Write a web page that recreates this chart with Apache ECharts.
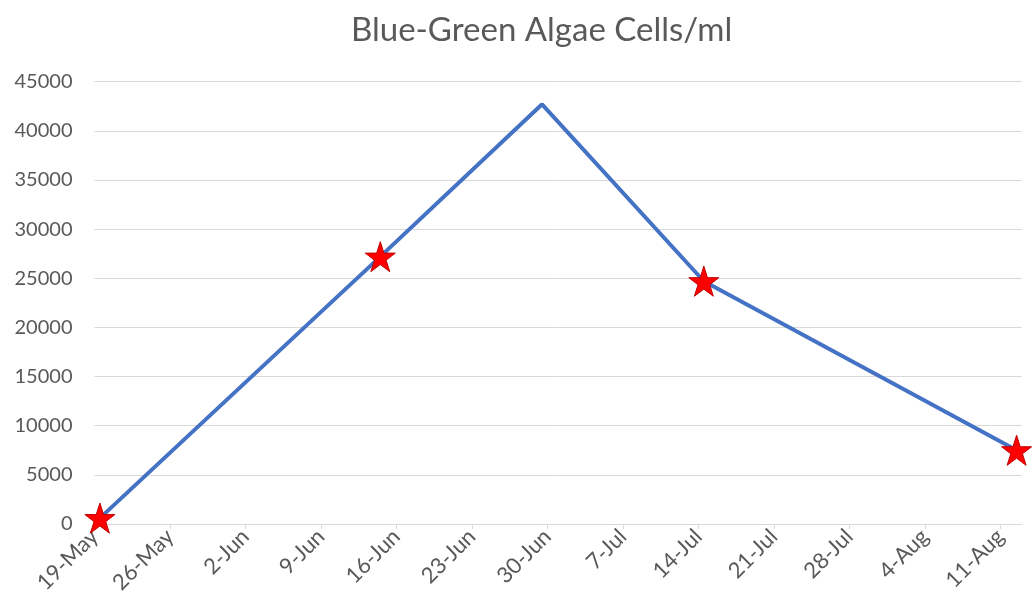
<!DOCTYPE html>
<html>
<head>
<meta charset="utf-8">
<script src="https://cdn.jsdelivr.net/npm/echarts@6/dist/echarts.min.js"></script>
<style>
  html, body { margin: 0; padding: 0; background: #fff; }
  #chart { width: 1033px; height: 609px; }
</style>
</head>
<body>
<div id="chart"></div>
<script>
// Sampling dates and blue-green algae counts (cells/ml)
const sampleDates = ['2019-05-19', '2019-06-14', '2019-06-29', '2019-07-14', '2019-08-12'];
const cellCounts = [600, 27200, 42700, 24700, 7500];
// Samples drawn with a star marker
const starredDates = ['2019-05-19', '2019-06-14', '2019-07-14', '2019-08-12'];
const monthNames = ['Jan', 'Feb', 'Mar', 'Apr', 'May', 'Jun', 'Jul', 'Aug', 'Sep', 'Oct', 'Nov', 'Dec'];
const yTicks = [0, 5000, 10000, 15000, 20000, 25000, 30000, 35000, 40000, 45000];

const DAY = 86400000;
const origin = Date.UTC(2019, 4, 19);
const toDay = s => (Date.parse(s + 'T00:00:00Z') - origin) / DAY;
const dayLabel = d => {
  const dt = new Date(origin + d * DAY);
  return dt.getUTCDate() + '-' + monthNames[dt.getUTCMonth()];
};

const STAR = 'path://M50,0 L61.8,35.4 L99,35.4 L69.1,57.3 L80.9,92.7 L50,70.8 L19.1,92.7 L30.9,57.3 L1,35.4 L38.2,35.4 Z';

// each sample sits in the middle of its day on the date axis
const seriesData = sampleDates.map((d, i) => {
  const item = { value: [toDay(d) + 0.5, cellCounts[i]] };
  if (!starredDates.includes(d)) item.symbol = 'none';
  return item;
});

const chart = echarts.init(document.getElementById('chart'), null, { renderer: 'canvas' });
chart.setOption({
  animation: false,
  backgroundColor: '#ffffff',
  title: {
    text: 'Blue-Green Algae Cells/ml',
    left: 346,
    top: 9,
    textStyle: { fontFamily: 'Lato', fontSize: 33, fontWeight: 'normal', color: '#595959' }
  },
  grid: { left: 94.5, right: 11, top: 81.7, bottom: 85 },
  xAxis: {
    type: 'value',
    min: 0,
    max: 86,
    interval: 7,
    axisLine: { show: true, lineStyle: { color: '#D9D9D9', width: 1 } },
    axisTick: { show: true, length: 5, lineStyle: { color: '#D9D9D9' } },
    splitLine: { show: false },
    axisLabel: {
      rotate: 45,
      margin: 9,
      color: '#595959',
      fontFamily: 'Lato',
      fontSize: 22,
      showMaxLabel: false,
      formatter: v => dayLabel(v)
    }
  },
  yAxis: {
    type: 'value',
    min: yTicks[0],
    max: yTicks[yTicks.length - 1],
    interval: yTicks[1] - yTicks[0],
    axisLine: { show: false },
    axisTick: { show: false },
    splitLine: { lineStyle: { color: '#D9D9D9', width: 1 } },
    axisLabel: { color: '#595959', fontFamily: 'Lato', fontSize: 20, margin: 22, formatter: v => String(v) }
  },
  series: [{
    type: 'line',
    data: seriesData,
    lineStyle: { color: '#4472C4', width: 4 },
    symbol: STAR,
    symbolSize: 30,
    itemStyle: { color: '#FF0000', borderColor: '#C00000', borderWidth: 1 },
    showAllSymbol: true
  }]
});
</script>
</body>
</html>
